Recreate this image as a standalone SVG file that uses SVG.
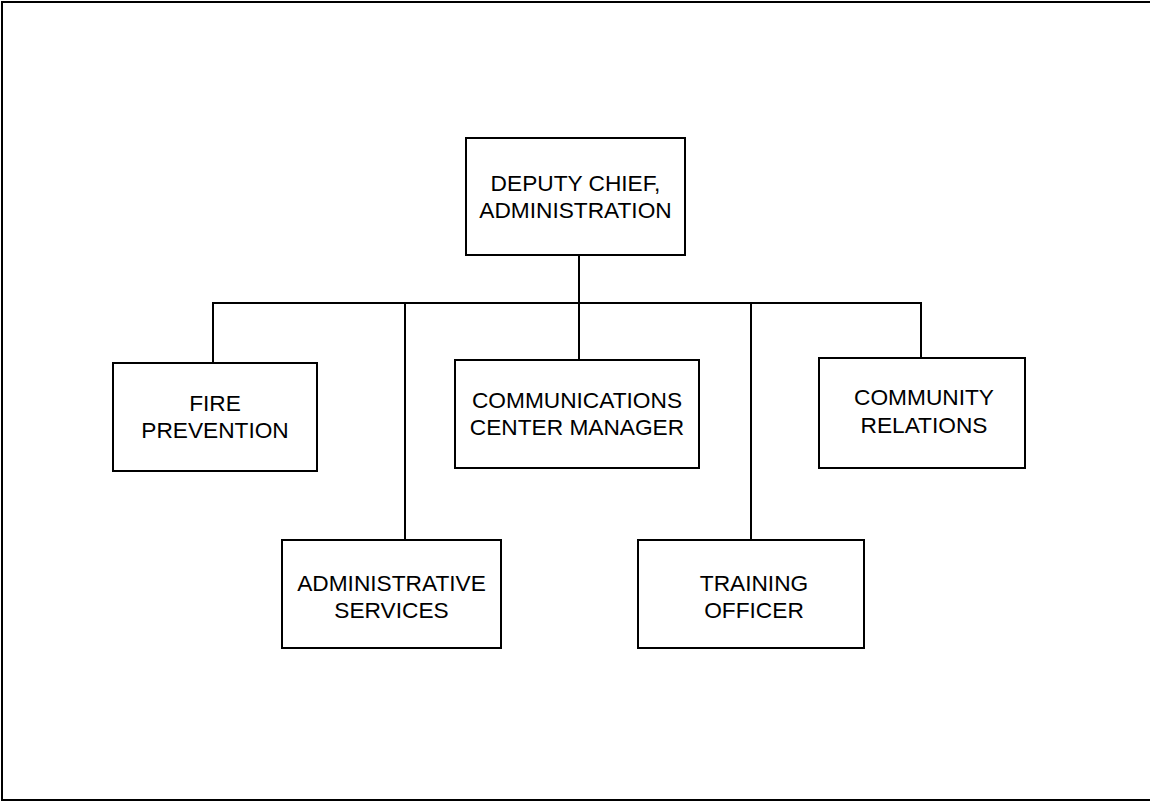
<svg xmlns="http://www.w3.org/2000/svg" width="1150" height="802" viewBox="0 0 1150 802">
<style>
.box{fill:#fff;stroke:#000;stroke-width:2}
.ln{fill:none;stroke:#000;stroke-width:2}
text{font-family:"Liberation Sans",Arial,sans-serif;font-size:22.7px;fill:#000;text-anchor:middle}
</style>
<rect x="0" y="0" width="1150" height="802" fill="#fff"/>
<path class="ln" d="M1152,2 H2 V800 H1152"/>
<g id="connectors">
<path class="ln" d="M579,255 V360"/>
<path class="ln" d="M213,363 V303 H921 V358"/>
<path class="ln" d="M405,303 V540"/>
<path class="ln" d="M751,303 V540"/>
</g>
<g id="deputy-chief">
<rect class="box" x="466" y="138" width="219" height="117"/>
<text x="575.5" y="191">DEPUTY CHIEF,</text>
<text x="575.5" y="218">ADMINISTRATION</text>
</g>
<g id="fire-prevention">
<rect class="box" x="113" y="363" width="204" height="108"/>
<text x="215" y="411">FIRE</text>
<text x="215" y="438">PREVENTION</text>
</g>
<g id="communications">
<rect class="box" x="455" y="360" width="244" height="108"/>
<text x="577" y="408">COMMUNICATIONS</text>
<text x="577" y="435">CENTER MANAGER</text>
</g>
<g id="community-relations">
<rect class="box" x="819" y="358" width="206" height="110"/>
<text x="924" y="405">COMMUNITY</text>
<text x="924" y="433">RELATIONS</text>
</g>
<g id="administrative-services">
<rect class="box" x="282" y="540" width="219" height="108"/>
<text x="391.5" y="591">ADMINISTRATIVE</text>
<text x="391.5" y="618">SERVICES</text>
</g>
<g id="training-officer">
<rect class="box" x="638" y="540" width="226" height="108"/>
<text x="754" y="591">TRAINING</text>
<text x="754" y="618">OFFICER</text>
</g>
</svg>
